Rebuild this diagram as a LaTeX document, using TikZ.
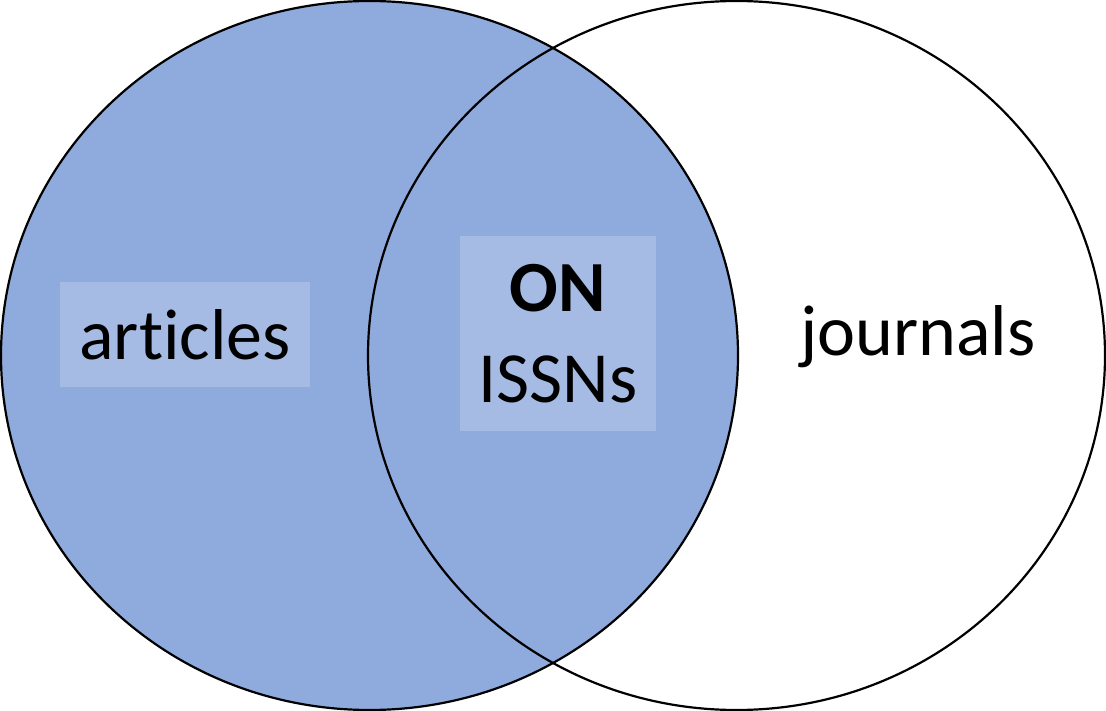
\documentclass[tikz,border=0pt]{standalone}
\usepackage{fontspec}
\setmainfont{Carlito}[Ligatures={NoCommon,NoContextual}]
\usepackage{tikz}
\usetikzlibrary{positioning}
\definecolor{vennblue}{RGB}{143,170,220}
\definecolor{labelblue}{RGB}{166,187,227}

\begin{document}
\begin{tikzpicture}[x=1pt, y=-1pt,
  setlabel/.style={fill=labelblue, inner sep=0pt, align=center,
    font=\fontsize{72}{91}\selectfont},
  plainlabel/.style={inner sep=0pt, align=center, font=\fontsize{72}{91}\selectfont},
  rim/.style={draw=black, line width=2.2pt}]
\useasboundingbox (0,0) rectangle (1106,711);
% left set filled, right set only outlined
\fill[vennblue] (369.5,355.5) ellipse [x radius=368.5, y radius=354.5];
\node[setlabel, minimum width=250, minimum height=105] (articles) at (185,334.5) {articles};
\node[setlabel, minimum width=196, minimum height=195] (issn) at (558,333.5) {\textbf{ON}\\ISSNs};
\node[plainlabel] (journals) at (918,337) {journals};
\draw[rim] (369.5,355.5) ellipse [x radius=368.5, y radius=354.5];
\draw[rim] (736.5,355.5) ellipse [x radius=368.5, y radius=354.5];
\end{tikzpicture}
\end{document}
